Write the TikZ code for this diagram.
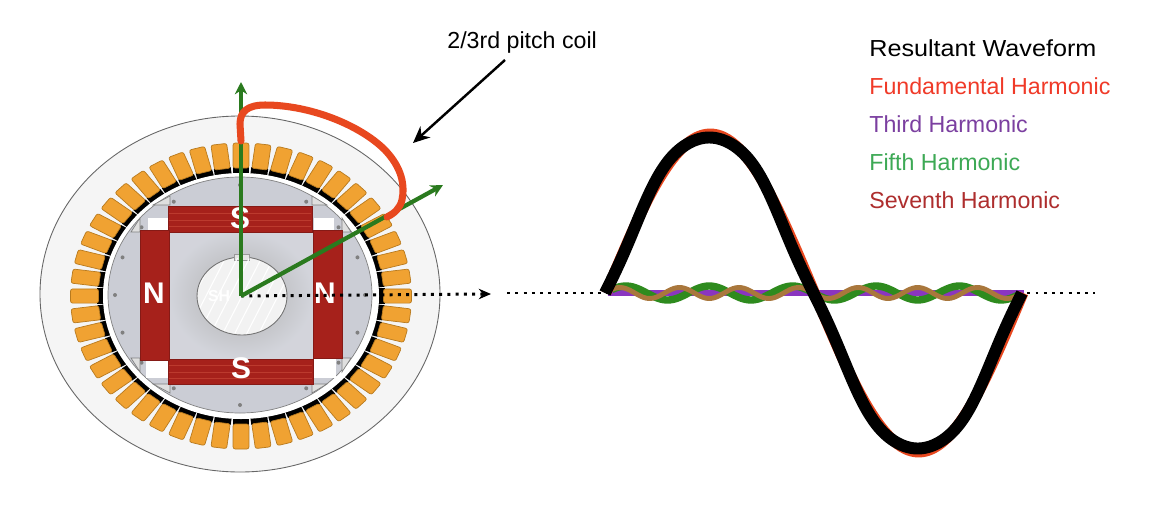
\documentclass[tikz,border=0pt]{standalone}
\usepackage{fontspec}
\setmainfont{Liberation Sans}
\usepackage{xcolor}
\usetikzlibrary{arrows.meta,positioning}
\definecolor{slotorange}{HTML}{F0A232}
\definecolor{slotedge}{HTML}{B87A1E}
\definecolor{polered}{HTML}{A6211B}
\definecolor{polestripe}{HTML}{BC3A2E}
\definecolor{rotorgray}{HTML}{CBCDD5}
\definecolor{axisgreen}{HTML}{2A7A1E}
\definecolor{coilred}{HTML}{E8481F}
\definecolor{fifthgreen}{HTML}{2E8B1E}
\definecolor{seventhbrown}{HTML}{A9773C}
\definecolor{thirdpurple}{HTML}{8A35C0}
\definecolor{fundtext}{HTML}{F03A28}
\definecolor{thirdtext}{HTML}{7B3FA0}
\definecolor{fifthtext}{HTML}{3DA955}
\definecolor{seventhtext}{HTML}{AE2E2E}

\begin{document}
\begin{tikzpicture}[
    x=0.02cm, y=-0.02cm,
    >=Stealth,
    legend/.style={anchor=west, font=\fontsize{13.2}{15}\selectfont, inner sep=0pt},
    polelabel/.style={font=\fontsize{17}{19}\selectfont\bfseries, text=white, inner sep=0pt},
    polebar/.style={fill=polered, draw=polered!80!black, line width=0.3pt},
    slotbox/.style={draw=slotedge, fill=slotorange, line width=0.4pt, rounded corners=1.2pt},
    axisline/.style={->, axisgreen, line width=2.4pt, >={Stealth[length=7pt,width=7pt]}},
    dotline/.style={line width=1.7pt, dash pattern=on 1.7pt off 3pt},
    tipline/.style={draw=gray, fill=gray!25, line width=0.4pt},
  ]
  \useasboundingbox (0,0) rectangle (1170,531);

  % Stator
  \fill[white] (0,0) rectangle (1170,531);
  \draw[gray!80!black, fill=black!4, line width=0.5pt] (240,294) ellipse [x radius=200, y radius=178];

  % Slots
  \foreach \a in {0,7.5,...,352.5} {
    \begin{scope}[shift={(241,296)}, xscale=1.114, rotate=\a]
      \fill[black] (122,-7.6) rectangle (129,7.6);
      \draw[slotbox] (128,-7.1) rectangle (153,7.1);
    \end{scope}
  }

  % Rotor
  \fill[white] (241,296) ellipse [x radius=138, y radius=123];
  \draw[gray, fill=rotorgray, line width=0.4pt] (240,295) ellipse [x radius=132, y radius=118];
  \foreach \a in {20,38,58,90,122,142,160,180,200,218,238,270,302,322,340,0} {
    \fill[black!50] ({240+125*cos(\a)},{295-110*sin(\a)}) circle (2);
  }

  % Pole tips
  \draw[tipline] (153,205) -- (170,196) -- (170,205) -- cycle;
  \draw[tipline] (327,205) -- (312,196) -- (312,205) -- cycle;
  \draw[tipline] (153,384) -- (170,393) -- (170,384) -- cycle;
  \draw[tipline] (327,384) -- (312,393) -- (312,384) -- cycle;
  \draw[tipline] (140,218) -- (131,232) -- (140,232) -- cycle;
  \draw[tipline] (342,218) -- (351,232) -- (342,232) -- cycle;
  \draw[tipline] (140,372) -- (131,358) -- (140,358) -- cycle;
  \draw[tipline] (342,372) -- (351,358) -- (342,358) -- cycle;

  % Corners
  \fill[white] (148,218) rectangle (168,231);
  \fill[white] (314,218) rectangle (334,231);
  \fill[white] (146,359) rectangle (168,378);
  \fill[white] (314,359) rectangle (336,378);

  % Pole core
  \shade[inner color=black!32, outer color=rotorgray!85!white] (169,231) rectangle (313,359);
  \draw[black!55, fill=black!5, line width=0.5pt] (242,296) ellipse [x radius=45, y radius=39];
  \draw[black!40, fill=black!10, line width=0.4pt] (234,260) rectangle (249,254);
  \begin{scope}
    \clip (242,296) ellipse [x radius=44, y radius=38];
    \foreach \i in {-60,-48,...,60} {
      \draw[white, line width=0.6pt] ({242+\i-20},{335}) -- ({242+\i+20},{257});
    }
  \end{scope}

  % Poles
  \fill[polebar] (168,206) rectangle (312,232);
  \fill[polebar] (168,359) rectangle (313,384);
  \fill[polebar] (140,230) rectangle (169,360);
  \fill[polebar] (313,230) rectangle (342,358);
  \foreach \y in {213,220,226} {
    \draw[polestripe, line width=0.5pt] (169,\y) -- (311,\y);
  }
  \foreach \y in {365,372,378} {
    \draw[polestripe, line width=0.4pt] (169,\y) -- (312,\y);
  }

  \node[polelabel] (topS) at (240,218) {S};
  \node[polelabel] (botS) at (241,368) {S};
  \node[polelabel] (leftN) at (154,293) {N};
  \node[polelabel] (rightN) at (325,293) {N};
  \node[polelabel, font=\fontsize{9}{10}\selectfont\bfseries] (shaft) at (219,296) {SH};

  % Axes
  \coordinate (origin) at (241,296);
  \coordinate (upaxis) at (241,82);
  \coordinate (slantaxis) at (443,185);
  \coordinate (dotstop) at (482,294);
  \coordinate (dotend) at (491,294);
  \coordinate (wavestart) at (507,293);
  \coordinate (waveend) at (1095,293);
  \draw[dotline] (origin) -- (dotstop);
  \draw[->, >={Stealth[length=7pt,width=6pt]}, line width=0.8pt] (dotstop) -- (dotend);
  \draw[axisline] (origin) -- (upaxis);
  \draw[axisline] (origin) -- (slantaxis);

  % Coil
  \draw[coilred, line width=4pt, line cap=round]
    (241,141) -- (240,124) .. controls (240,112) and (247,105) .. (265,105)
    .. controls (310,105) and (360,125) .. (385,150)
    .. controls (402,168) and (405,185) .. (402,200)
    .. controls (400,208) and (395,213) .. (387,217);

  % Waveforms
  \draw[dotline] (wavestart) -- (waveend);
  \draw[thirdpurple, line width=3.4pt] (608,293) -- (1024,293);
  \draw[fifthgreen, line width=4.2pt] plot[samples=160, domain=612:1018]
    (\x,{293-7*sin((\x-605)/417*1800)});
  \draw[seventhbrown, line width=2.8pt] plot[samples=160, domain=610:1018]
    (\x,{293-5.5*sin((\x-605)/417*2520)});
  \draw[coilred, line width=6.2pt] plot[samples=180, domain=606:1023]
    (\x,{293-159*sin((\x-606)/417*360)});
  \draw[black, line width=6.8pt] plot[samples=240, domain=605:1022]
    (\x,{293-158*sin((\x-605)/417*360)+3.5*sin((\x-605)/417*1800)+1*sin((\x-605)/417*2520)});

  % Labels
  \node[legend] (coillabel) at (447,43) {2/3rd pitch coil};
  \coordinate (coilarrow) at (505,60);
  \coordinate (coiltip) at (413,143);
  \draw[->, >={Stealth[length=9.5pt,width=8.5pt]}, line width=1.4pt] (coilarrow) -- (coiltip);

  \node[legend] (resultant) at (869,48) {\addfontfeature{FakeStretch=1.085}Resultant Waveform};
  \node[legend, text=fundtext, below=0.76cm of resultant.west, anchor=west] (fundamental) {Fundamental Harmonic};
  \node[legend, text=thirdtext, below=0.76cm of fundamental.west, anchor=west] (third) {Third Harmonic};
  \node[legend, text=fifthtext, below=0.76cm of third.west, anchor=west] (fifth) {Fifth Harmonic};
  \node[legend, text=seventhtext, below=0.76cm of fifth.west, anchor=west] (seventh) {Seventh Harmonic};
\end{tikzpicture}
\end{document}
